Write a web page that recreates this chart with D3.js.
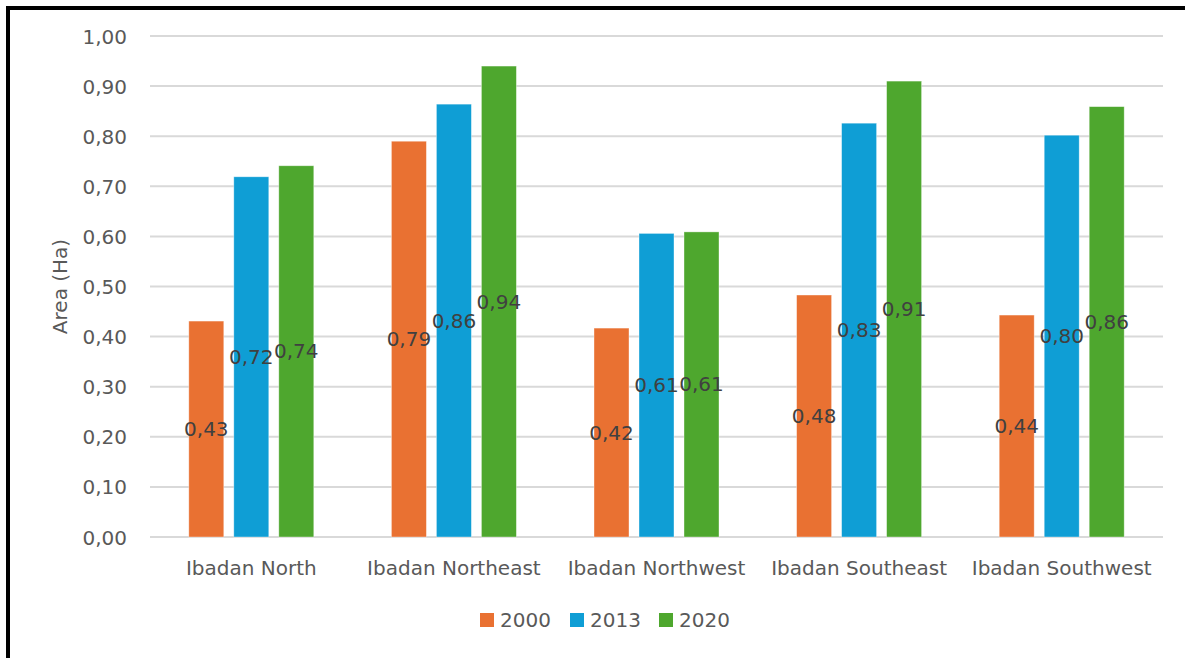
<!DOCTYPE html>
<html>
<head>
<meta charset="utf-8">
<script src="https://cdn.jsdelivr.net/npm/d3@7/dist/d3.min.js"></script>
<style>
  body { margin: 0; background: #fff; }
  svg text { font-family: "DejaVu Sans", "Open Sans", sans-serif; }
</style>
</head>
<body>
<svg id="chart" width="1185" height="658"></svg>
<script>
// Ibadan areas -- grouped bars per year

var districts = ["Ibadan North", "Ibadan Northeast", "Ibadan Northwest", "Ibadan Southeast", "Ibadan Southwest"];
var years = ["2000", "2013", "2020"];
var area2000 = [0.431, 0.790, 0.417, 0.483, 0.443];
var area2013 = [0.719, 0.864, 0.606, 0.826, 0.802];
var area2020 = [0.741, 0.940, 0.609, 0.910, 0.859];
var yTicks = [0, 0.1, 0.2, 0.3, 0.4, 0.5, 0.6, 0.7, 0.8, 0.9, 1.0];
var colors = ["#E97132", "#0F9ED5", "#4EA72E"];

var series = [area2000, area2013, area2020];

var svg = d3.select("#chart");
var plotLeft = 150, plotRight = 1163, plotTop = 36, plotBottom = 537;
var fs = 20;
var fmt = function (d) { return d3.format(".2f")(d).replace(".", ","); };

// frame (only left and top edges show in the picture)
svg.append("line").attr("x1", 8).attr("x2", 8).attr("y1", 6).attr("y2", 658)
  .attr("stroke", "#000").attr("stroke-width", 4);
svg.append("line").attr("x1", 6).attr("x2", 1185).attr("y1", 8).attr("y2", 8)
  .attr("stroke", "#000").attr("stroke-width", 4);

var y = d3.scaleLinear().domain([0, 1]).range([plotBottom, plotTop]);
var x0 = d3.scaleBand().domain(districts).range([plotLeft, plotRight]);
var x1 = d3.scaleBand().domain(years).range([0, 125]).paddingInner(0.2222);

// gridlines
svg.append("g").selectAll("line").data(yTicks).enter().append("line")
  .attr("x1", plotLeft).attr("x2", plotRight)
  .attr("y1", function (d) { return y(d); })
  .attr("y2", function (d) { return y(d); })
  .attr("stroke", "#d9d9d9").attr("stroke-width", 2);

// y tick labels
var yAxis = d3.axisLeft(y).tickValues(yTicks).tickSize(0).tickPadding(0).tickFormat(fmt);
var ya = svg.append("g").attr("transform", "translate(127,0)").call(yAxis);
ya.attr("font-family", null);
ya.select(".domain").remove();
ya.selectAll("text").attr("font-size", fs).attr("fill", "#595959").attr("dy", "0.35em");

// x labels
var xAxis = d3.axisBottom(x0).tickSize(0).tickPadding(0);
var xa = svg.append("g").attr("transform", "translate(0,568)").call(xAxis);
xa.attr("font-family", null);
xa.select(".domain").remove();
xa.selectAll("text").attr("font-size", fs).attr("fill", "#595959").attr("dy", "0.35em");

// bars
var groups = svg.append("g").selectAll("g").data(districts).enter().append("g")
  .attr("transform", function (d) {
    return "translate(" + (x0(d) + x0.bandwidth() / 2 - 62.5) + ",0)";
  });

series.forEach(function (vals, s) {
  groups.append("rect")
    .attr("x", x1(years[s]))
    .attr("width", x1.bandwidth())
    .attr("y", function (d, i) { return y(vals[i]); })
    .attr("height", function (d, i) { return plotBottom - y(vals[i]); })
    .attr("fill", colors[s])
    .attr("stroke", "#fff").attr("stroke-opacity", 0.5).attr("stroke-width", 0.75);
});

// data labels, centred in bar
series.forEach(function (vals, s) {
  groups.append("text")
    .attr("x", x1(years[s]) + x1.bandwidth() / 2)
    .attr("y", function (d, i) { return (y(vals[i]) + plotBottom) / 2; })
    .attr("dy", "0.35em")
    .attr("text-anchor", "middle")
    .attr("font-size", fs).attr("fill", "#404040")
    .text(function (d, i) { return fmt(vals[i]); });
});

// y title
svg.append("text")
  .attr("transform", "translate(60," + ((plotTop + plotBottom) / 2) + ") rotate(-90)")
  .attr("text-anchor", "middle").attr("dy", "0.35em")
  .attr("font-size", fs).attr("fill", "#595959")
  .text("Area (Ha)");

// legend
var lx = [480, 570, 659];
var legend = svg.append("g").selectAll("g").data(years).enter().append("g")
  .attr("transform", function (d, i) { return "translate(" + lx[i] + ",620)"; });
legend.append("rect").attr("x", 0).attr("y", -7).attr("width", 14).attr("height", 14)
  .attr("fill", function (d, i) { return colors[i]; });
legend.append("text").attr("x", 20).attr("dy", "0.35em")
  .attr("font-size", fs).attr("fill", "#595959")
  .text(function (d) { return d; });
</script>
</body>
</html>
